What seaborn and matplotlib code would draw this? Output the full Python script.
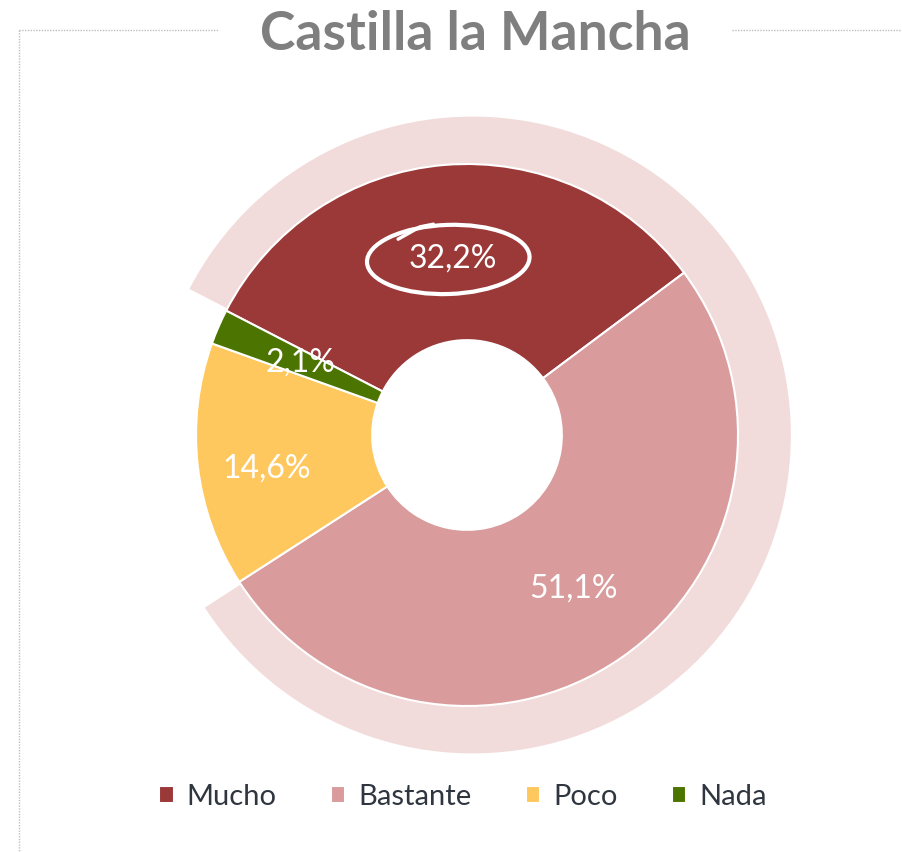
import matplotlib
matplotlib.use("Agg")
import numpy as np
import matplotlib.pyplot as plt
from matplotlib.patches import Ellipse
from matplotlib.lines import Line2D
import seaborn as sns

# Data
categories = ["Mucho", "Bastante", "Poco", "Nada"]
values = [32.2, 51.1, 14.6, 2.1]
colors = sns.color_palette(["#9B3838", "#D99B9C", "#FFC85E", "#4C7400"])
ring_values = [values[0] + values[1], values[2] + values[3]]
title = "Castilla la Mancha"

# label placement (radius, angle shift in degrees) per slice
label_place = [(0.655, 0), (0.69, 0), (0.75, 3), (0.67, 0)]

sns.set_style("white")
plt.rcParams["font.family"] = ["Lato", "DejaVu Sans"]

W, H = 902, 852
fig = plt.figure(figsize=(W / 100, H / 100), dpi=100)

# axes placed so the pie centre sits at (467, 435) px and radius 1 = 271 px
scale = 271
lim = 1.25
size = 2 * lim * scale
cx, cy = 467, 435
ax = fig.add_axes([(cx - size / 2) / W, (H - cy - size / 2) / H, size / W, size / H])

# outer light ring behind Mucho + Bastante (slightly off-centre, wider on the right)
ax.pie(ring_values, radius=1.175, center=(0.02, 0.0), startangle=152.7,
       counterclock=False, colors=["#F2DCDB", "none"],
       wedgeprops=dict(width=0.3, edgecolor="none"))

# main donut
wedges, _, autotexts = ax.pie(
    values, radius=1.0, startangle=152.7, counterclock=False, colors=colors,
    autopct=lambda p: f"{p:.1f}%".replace(".", ","), pctdistance=0.68,
    wedgeprops=dict(width=0.65, edgecolor="white", linewidth=1.5),
    textprops=dict(color="white", fontsize=23))

for w, t, (r, shift) in zip(wedges, autotexts, label_place):
    mid = np.deg2rad((w.theta1 + w.theta2) / 2 + shift)
    t.set_position((r * np.cos(mid), r * np.sin(mid)))

# hand-drawn style highlight around 32,2%
lab = autotexts[0].get_position()
ax.add_patch(Ellipse((lab[0] - 0.015, lab[1] - 0.005), 0.6, 0.255, angle=2,
                     fill=False, edgecolor="white", linewidth=3))
ax.plot([lab[0] - 0.2, lab[0] - 0.12, lab[0] - 0.07],
        [lab[1] + 0.07, lab[1] + 0.115, lab[1] + 0.125],
        color="white", linewidth=2.5, solid_capstyle="round")

ax.set_xlim(-lim, lim)
ax.set_ylim(-lim, lim)
ax.set_aspect("equal")
ax.axis("off")

# title
fig.text(475 / W, 1 - 35 / H, title, ha="center", va="center",
         fontsize=38.5, fontweight="bold", color="#7F7F7F")

# dotted frame
frame = dict(color="#BFBFBF", linewidth=1, linestyle=(0, (1, 1)))
fig.add_artist(Line2D([19 / W, 19 / W], [1 - 30 / H, 0], transform=fig.transFigure, **frame))
fig.add_artist(Line2D([19 / W, 218 / W], [1 - 30 / H, 1 - 30 / H], transform=fig.transFigure, **frame))
fig.add_artist(Line2D([732 / W, 1], [1 - 30 / H, 1 - 30 / H], transform=fig.transFigure, **frame))

# legend
fig.legend(wedges, categories, loc="center", bbox_to_anchor=(463 / W, 1 - 797 / H),
           ncol=4, frameon=False, fontsize=21, handlelength=0.5, handleheight=0.5,
           handletextpad=0.45, columnspacing=1.85, labelcolor="#2F3640")

fig.savefig("out.png", dpi=100)
